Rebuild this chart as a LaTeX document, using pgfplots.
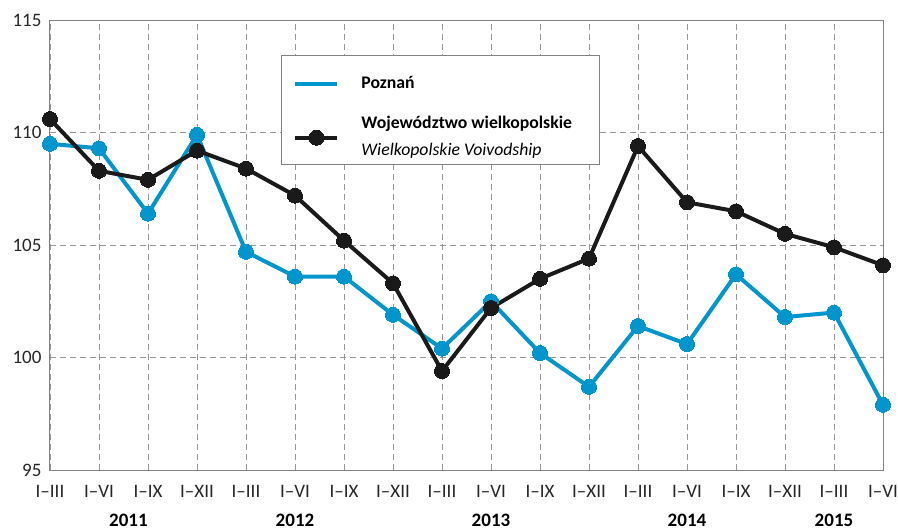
\documentclass[border=0pt]{standalone}
\usepackage{fontspec}
\setmainfont{Carlito}
\usepackage{pgfplots}
\pgfplotsset{compat=1.18}
\definecolor{pblue}{RGB}{0,150,205}
\definecolor{wblack}{RGB}{26,26,26}
\definecolor{gridgray}{RGB}{150,150,150}
\definecolor{axgray}{RGB}{130,130,130}
\newcommand{\yrfont}{\fontsize{19bp}{23bp}\selectfont\bfseries}
\newcommand{\lgentry}{\begin{tabular}[t]{@{}l@{}}\textbf{Województwo wielkopolskie}\hspace*{14bp}\\[2bp]\textit{Wielkopolskie Voivodship}\rule[-14bp]{0pt}{14bp}\end{tabular}}
\begin{document}
\fontsize{19bp}{23bp}\selectfont
\begin{tikzpicture}
\path[use as bounding box] (-50bp,-60bp) rectangle (848bp,470bp);
\begin{axis}[
  at={(0,0)}, anchor=south west,
  width=833bp, height=450bp, scale only axis,
  xmin=0, xmax=17, ymin=95, ymax=115,
  xtick={0,...,17},
  xticklabels={I–III,I–VI,I–IX,I–XII,I–III,I–VI,I–IX,I–XII,I–III,I–VI,I–IX,I–XII,I–III,I–VI,I–IX,I–XII,I–III,I–VI},
  ytick={95,100,105,110,115},
  /pgf/number format/assume math mode=true,
  grid=major,
  major grid style={gridgray, dash pattern=on 6bp off 4bp, line width=0.9bp},
  axis line style={axgray, line width=1bp},
  major tick length=0pt,
  tick label style={font=\fontsize{19bp}{23bp}\selectfont, text=black!85},
  xticklabel style={yshift=-9bp},
  yticklabel style={xshift=-2bp},
  clip=false,
  legend cell align=left,
  legend style={at={(rel axis cs:0.2773,0.9222)}, anchor=north west,
    draw=axgray, line width=1bp, inner xsep=12bp, inner ysep=19bp,
    row sep=15bp, column sep=20bp, font=\fontsize{17.7bp}{25bp}\selectfont},
  legend image code/.code={\draw[mark repeat=2,mark phase=2,#1] plot coordinates {(0bp,0bp) (21bp,0bp) (42bp,0bp)};},
]
\addplot[pblue, line width=4bp, mark=*, mark size=7.5bp, mark options={solid, fill=pblue, draw=pblue, line width=0bp}, forget plot]
  coordinates {(0,109.5) (1,109.3) (2,106.4) (3,109.9) (4,104.7) (5,103.6) (6,103.6) (7,101.9) (8,100.4) (9,102.5) (10,100.2) (11,98.7) (12,101.4) (13,100.6) (14,103.7) (15,101.8) (16,102.0) (17,97.9)};
\addlegendimage{pblue, line width=4bp}
\addlegendentry{\textbf{Poznań}}
\addplot[wblack, line width=4bp, mark=*, mark size=7.5bp, mark options={solid, fill=wblack, draw=wblack, line width=0bp}, legend image post style={yshift=-17bp}]
  coordinates {(0,110.6) (1,108.3) (2,107.9) (3,109.2) (4,108.4) (5,107.2) (6,105.2) (7,103.3) (8,99.4) (9,102.2) (10,103.5) (11,104.4) (12,109.4) (13,106.9) (14,106.5) (15,105.5) (16,104.9) (17,104.1)};
\addlegendentry{\lgentry}
\node[font=\yrfont] at (axis cs:1.6,95) [yshift=-50bp] {2011};
\node[font=\yrfont] at (axis cs:5,95) [yshift=-50bp] {2012};
\node[font=\yrfont] at (axis cs:9,95) [yshift=-50bp] {2013};
\node[font=\yrfont] at (axis cs:13,95) [yshift=-50bp] {2014};
\node[font=\yrfont] at (axis cs:16,95) [yshift=-50bp] {2015};
\draw[black!80, line width=0.8bp] (axis cs:3,95) ++(0,-40bp) -- ++(0,-20bp);
\draw[black!80, line width=0.8bp] (axis cs:7,95) ++(0,-40bp) -- ++(0,-20bp);
\draw[black!80, line width=0.8bp] (axis cs:11,95) ++(0,-40bp) -- ++(0,-20bp);
\draw[black!80, line width=0.8bp] (axis cs:15,95) ++(0,-40bp) -- ++(0,-20bp);
\end{axis}
\end{tikzpicture}
\end{document}
